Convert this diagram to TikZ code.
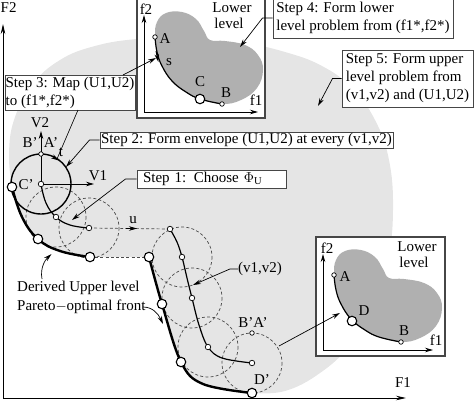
\documentclass[tikz,border=0pt]{standalone}
\usepackage{fontspec}
\setmainfont{Liberation Serif}
\usetikzlibrary{arrows.meta}
\definecolor{bglight}{RGB}{229,229,229}
\definecolor{blobgray}{RGB}{176,176,176}
\definecolor{boxline}{RGB}{70,70,70}
\definecolor{envgray}{RGB}{75,75,75}
\begin{document}
\begin{tikzpicture}[x=1pt,y=-1pt,
  font=\fontsize{15}{18}\selectfont,
  every node/.style={inner sep=0pt},
  ptbig/.style={circle,draw,fill=white,minimum size=9.5pt,line width=1.1pt},
  ptsmall/.style={circle,draw,fill=white,minimum size=5.5pt,line width=0.7pt},
  stepbox/.style={draw=boxline,line width=1pt,fill=white,align=left},
  arrowtip/.style={-{Stealth[length=8pt,width=4.5pt]}},
  arr/.style={arrowtip,line width=0.7pt},
  envc/.style={dash pattern=on 3pt off 2.2pt,draw=envgray,line width=0.7pt},
  frontline/.style={line width=2.4pt},
  vcurve/.style={line width=1.2pt},
  lowbox/.style={draw=boxline,line width=1.1pt,fill=white},
]
\useasboundingbox (0,0) rectangle (474,402);

% light gray upper-level region
\fill[bglight] (12,187) -- plot[smooth,tension=0.7] coordinates {(12,187) (22,217) (38,239) (60,251) (90,257)}
  -- (149,257) -- plot[smooth,tension=0.6] coordinates {(149,257) (162,304) (181,362) (203,384) (252,393)}
  -- plot[smooth,tension=0.7] coordinates {(252,393) (285,391) (320,373) (350,345) (374,305) (388,260) (393,210) (389,160) (375,120) (352,88) (322,66) (285,52) (240,42) (190,37) (137,39) (95,46) (60,60) (32,85) (14,120) (9,155) (12,187)}
  -- cycle;

% points of the (v1,v2) curve
\coordinate (p0) at (41,184);
\coordinate (p1) at (56,217);
\coordinate (p2) at (89,228);
\coordinate (q0) at (170,229);
\coordinate (q1) at (182,257);
\coordinate (q2) at (192,298);
\coordinate (q3) at (208,347);
\coordinate (q4) at (252,363);
% front points
\coordinate (c0) at (12,187);
\coordinate (c1) at (38,239);
\coordinate (c2) at (90,257);
\coordinate (d0) at (149,257);
\coordinate (d1) at (162,304);
\coordinate (d2) at (181,362);
\coordinate (d3) at (252,393);

% dashed envelopes
\foreach \c in {p1,p2,q1,q2,q3,q4} \draw[envc] (\c) circle (30);
\draw[envc] (c2) -- (d0);
\draw[envc] (p2) -- (q0);
\draw[arrowtip,line width=0.6pt] (126,228.5) -- (137,228.5);

% curves
\draw[vcurve] plot[smooth,tension=0.7] coordinates {(p0) (46,203) (p1) (70,225) (p2)};
\draw[vcurve] plot[smooth,tension=0.6] coordinates {(q0) (177,242) (q1) (187,278) (q2) (199,325) (q3) (222,358) (q4)};
\draw[frontline] plot[smooth,tension=0.7] coordinates {(c0) (22,217) (c1) (60,251) (c2)};
\draw[frontline] plot[smooth,tension=0.6] coordinates {(d0) (d1) (d2) (203,384) (d3)};

% solid envelope and its axes
\draw[line width=1.4pt] (p0) circle (30);
\draw[arr,line width=0.8pt] (p0) -- (41,131);
\draw[arr,line width=0.8pt] (p0) -- (94,184);
\draw[-{Stealth[length=8pt,width=4.5pt]},line width=1pt] (52.5,156.5) -- (59,160.6);

% main axes
\draw[-{Stealth[length=10pt,width=4.5pt]},line width=0.9pt] (3,398) -- (3,24);
\draw[-{Stealth[length=10pt,width=4.5pt]},line width=0.9pt] (3,398) -- (406,398);
\node[anchor=base west] (lF2) at (0.5,12) {F2};
\node (lF1) at (403,383) {F1};

% point markers
\foreach \c in {c0,c1,c2,d0,d1,d2,d3} \node[ptbig] (N\c) at (\c) {};
\foreach \c in {p0,p1,p2,q0,q1,q2,q3,q4} \node[ptsmall] (N\c) at (\c) {};
\node[ptsmall,minimum size=4.5pt] (ba1) at (41,154) {};
\node[ptsmall,minimum size=4.5pt] (ba2) at (252,333) {};

% labels near the fronts
\node (lV2) at (40,123) {V2};
\node (lV1) at (98,176) {V1};
\node (lB1) at (30,143) {B'};
\node (lA1) at (51,143) {A'};
\node (lt) at (61,152) {t};
\node (lC1) at (26,185) {C'};
\node (lu) at (133,220) {u};
\node (lBA2) at (253,323) {B'A'};
\node (lD2) at (262,380) {D'};
\node (vlab) at (260,269) {(v1,v2)};
\node[anchor=west] (der1) at (17,288) {Derived Upper level};
\node[anchor=west] (der2) at (17,307) {Pareto$-$optimal front};
\draw[arr] (42,279) .. controls (40,268) and (45,260) .. (51.5,254);
\draw[arr] (143,307) .. controls (152,307) and (158,313) .. (163,324);

% upper lower-level box
\node[lowbox,minimum width=128pt,minimum height=120pt] (ubox) at (201,58) {};
\fill[blobgray] plot[smooth cycle,tension=0.7] coordinates {(155,36) (157,22) (166,13) (182,12) (196,19) (204,31) (210,40) (225,41) (245,45) (258,55) (263,70) (257,88) (241,100) (222,104) (200,99) (185,92) (172,81) (162,66) (157,52)};
\draw[line width=1.2pt] plot[smooth,tension=0.7] coordinates {(155,37) (157,52) (162,66) (172,81) (186,92) (200,99) (222,104)};
\draw[-{Stealth[length=8pt,width=4.5pt]},line width=1pt] (156,51) -- (158.3,62);
\draw[arr,line width=0.8pt] (144,112) -- (144,15);
\draw[arr,line width=0.8pt] (144,112) -- (258,112);
\node[ptsmall,minimum size=4.5pt] (uA) at (155,37) {};
\node[ptsmall,minimum size=4.5pt] (uB) at (222,104) {};
\node[ptbig] (uC) at (200,99) {};
\node (luf2) at (146,9) {f2};
\node (luf1) at (256,100) {f1};
\node (luA) at (165,39) {A};
\node (lus) at (169,62) {s};
\node (luC) at (200,82) {C};
\node (luB) at (226,93) {B};
\node (luL1) at (232,8) {Lower};
\node (luL2) at (229,23) {level};

% lower-right lower-level box
\node[lowbox,minimum width=129pt,minimum height=119pt] (lbox) at (380.5,296.5) {};
\begin{scope}[shift={(179,238)}]
\fill[blobgray] plot[smooth cycle,tension=0.7] coordinates {(155,36) (157,22) (166,13) (182,12) (196,19) (204,31) (210,40) (225,41) (245,45) (258,55) (263,70) (257,88) (241,100) (222,104) (200,99) (185,92) (172,81) (162,66) (157,52)};
\draw[line width=1.2pt] plot[smooth,tension=0.7] coordinates {(155,37) (157,52) (162,66) (172,81) (186,92) (200,99) (222,104)};
\end{scope}
\draw[arr,line width=0.8pt] (323,350) -- (323,254);
\draw[arr,line width=0.8pt] (323,350) -- (433,350);
\node[ptsmall,minimum size=4.5pt] (lA) at (334,275) {};
\node[ptsmall,minimum size=4.5pt] (lB) at (401,342) {};
\node[ptbig] (lD) at (352,321) {};
\node (llf2) at (327,248) {f2};
\node (llf1) at (436,340) {f1};
\node (llA) at (345,277) {A};
\node (llD) at (364,311) {D};
\node (llB) at (404,331) {B};
\node (llL1) at (417,247) {Lower};
\node (llL2) at (414,262) {level};

% step boxes
\node[stepbox,minimum width=130pt,minimum height=35pt] (step3) at (70,92.5) {Step 3: Map (U1,U2)\\to (f1*,f2*)};
\node[stepbox,minimum width=180pt,minimum height=40pt] (step4) at (363,18) {Step 4: Form lower\\level problem from (f1*,f2*)};
\node[stepbox,minimum width=131pt,minimum height=57pt] (step5) at (407.5,78.5) {Step 5: Form upper\\level problem from\\(v1,v2) and (U1,U2)};
\node[stepbox,minimum width=293pt,minimum height=16pt] (step2) at (246.5,140) {Step 2: Form envelope (U1,U2) at every (v1,v2)};
\node[stepbox,text width=137pt,inner xsep=6pt,minimum height=18pt] (step1) at (211.5,179) {Step 1: Choose $\Phi_{\mathrm{U}}$};

% connectors
\coordinate (tip4) at (240,47);
\coordinate (tip5) at (318,106);
\coordinate (tip2) at (66,167);
\coordinate (tip1) at (72,220);
\coordinate (tipv) at (193,285);
\coordinate (tpt) at (57,159);
\coordinate (spt) at (156,58);
\coordinate (s3top) at (123,75);
\coordinate (s3bot) at (78,110);
\coordinate (lcirc) at (279,346);
\coordinate (ltip) at (340,313);
\draw[arr] (step4.west) -- ++(-10,0) -- (tip4);
\draw[arr] (step5.west) -- ++(-9,0) -- (tip5);
\draw[arr] (step2.west) -- ++(-10,0) -- (tip2);
\draw[arr] (step1.west) -- ++(-11,0) -- (tip1);
\draw[arr] (vlab.west) -- ++(-8,0) -- (tipv);
\draw[line width=0.6pt] (s3bot) -- (tpt);
\draw[arr] (s3top) -- (spt);
\draw[arr] (lcirc) -- (ltip);
\end{tikzpicture}
\end{document}
